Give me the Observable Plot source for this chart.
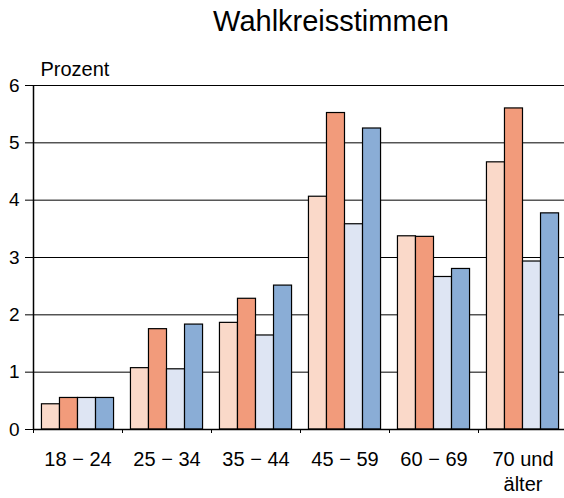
<!DOCTYPE html>
<html>
<head>
<meta charset="utf-8">
<script src="https://cdn.jsdelivr.net/npm/d3@7"></script>
<script src="https://cdn.jsdelivr.net/npm/@observablehq/plot@0.6"></script>
<style>
  html, body { margin: 0; padding: 0; background: #fff; }
  body { width: 564px; height: 498px; overflow: hidden; font-family: "Liberation Sans", Arial, sans-serif; }
  #title { height: 44px; line-height: 42px; font-size: 29px; color: #000; text-align: center; padding-left: 98px; box-sizing: border-box; width: 564px; white-space: nowrap; }
</style>
</head>
<body>
<div id="title">Wahlkreisstimmen</div>
<div id="chart"></div>
<script>
const categories = ["18 − 24", "25 − 34", "35 − 44", "45 − 59", "60 − 69", "70 und\nälter"];
const seriesNames = ["Serie 1", "Serie 2", "Serie 3", "Serie 4"];
const serie1 = [0.44, 1.07, 1.86, 4.06, 3.37, 4.66];
const serie2 = [0.55, 1.75, 2.28, 5.52, 3.36, 5.60];
const serie3 = [0.55, 1.05, 1.64, 3.58, 2.66, 2.93];
const serie4 = [0.55, 1.83, 2.51, 5.25, 2.80, 3.77];
const colors = ["#fad9c9", "#f29b7b", "#dee5f3", "#8aadd6"];
const yTicks = [0, 1, 2, 3, 4, 5, 6];

const allSeries = [serie1, serie2, serie3, serie4];
const groupWidth = 0.81;
const barWidth = groupWidth / seriesNames.length;
const data = [];
categories.forEach((c, gi) => {
  allSeries.forEach((s, si) => {
    const x1 = gi - groupWidth / 2 + si * barWidth;
    data.push({category: c, series: seriesNames[si], value: s[gi], x1, x2: x1 + barWidth});
  });
});
const boundaries = d3.range(categories.length + 1).map(i => i - 0.5);

const chart = Plot.plot({
  width: 564,
  height: 454,
  marginTop: 41,
  marginBottom: 69,
  marginLeft: 33,
  marginRight: -3,
  style: {fontFamily: "Liberation Sans, Arial, sans-serif", fontSize: "19px", color: "#000", background: "#fff"},
  x: {type: "linear", domain: [-0.5, categories.length - 0.5], axis: null},
  y: {domain: [0, 6], ticks: yTicks, tickFormat: "d", tickSize: 8, tickPadding: 6, label: null},
  color: {domain: seriesNames, range: colors},
  marks: [
    Plot.ruleY(yTicks.filter(d => d > 0), {stroke: "#000", strokeWidth: 1}),
    Plot.rectY(data, {x1: "x1", x2: "x2", y: "value", fill: "series", stroke: "#000", strokeWidth: 1.2}),
    Plot.ruleY([0], {stroke: "#000", strokeWidth: 1.5}),
    Plot.ruleX([-0.5], {y1: 0, y2: 6, stroke: "#000", strokeWidth: 1.5}),
    Plot.ruleX(boundaries, {y1: 0, y2: 0, insetBottom: -4, stroke: "#000", strokeWidth: 1}),
    Plot.text(["Prozent"], {frameAnchor: "top-left", dx: 7, dy: -10, lineAnchor: "bottom", textAnchor: "start", fontSize: 20, fill: "#000"}),
    Plot.text(categories, {x: (d, i) => i, frameAnchor: "bottom", lineAnchor: "top", dy: 19, fontSize: 20, lineHeight: 1.25, fill: "#000"})
  ]
});
document.getElementById("chart").appendChild(chart);
</script>
</body>
</html>
